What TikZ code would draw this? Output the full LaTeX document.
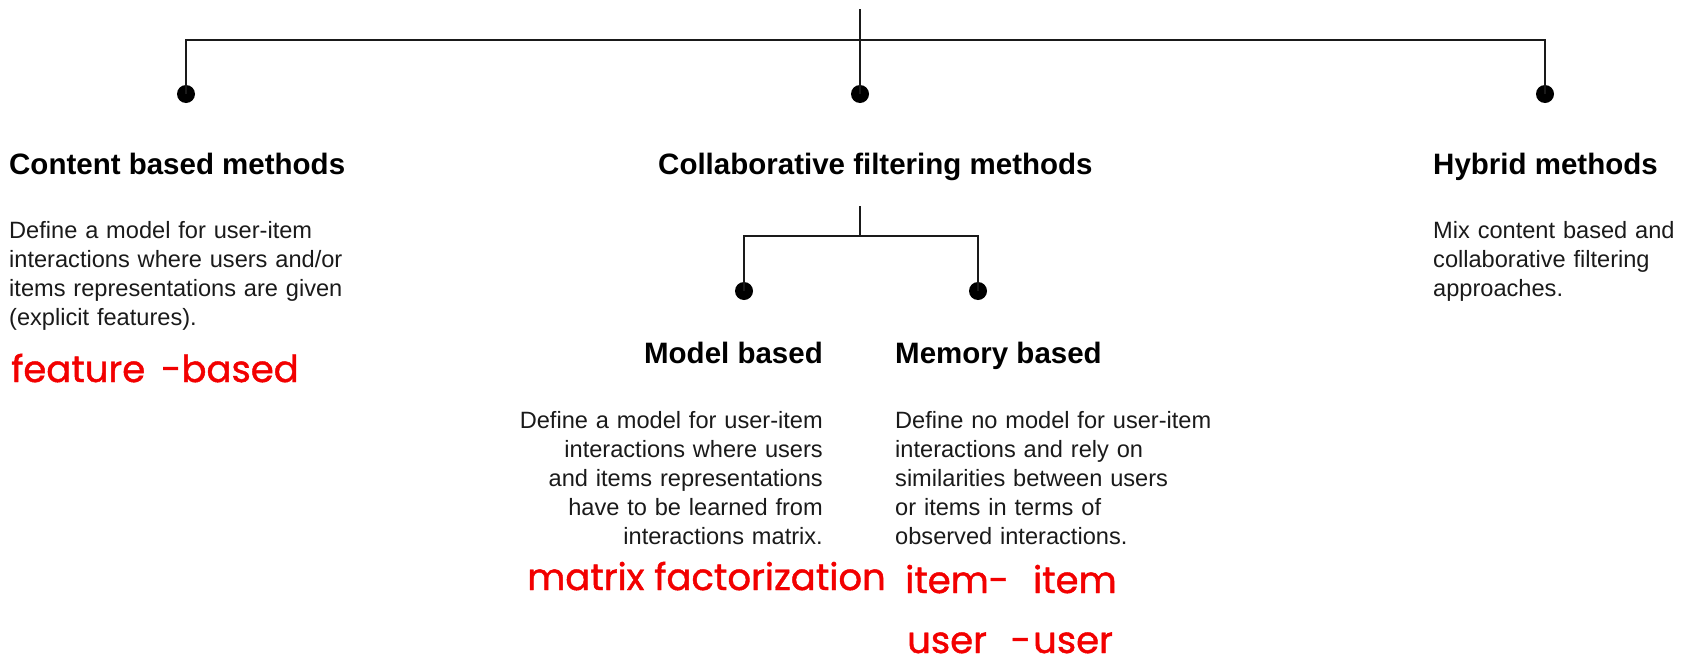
\documentclass[tikz,border=0pt]{standalone}
\usepackage{fontspec}
\setmainfont{Liberation Sans}
\newfontfamily\hand{Poppins}[FakeBold=1.2]
\definecolor{ink}{HTML}{1A1A1A}
\definecolor{marker}{HTML}{F20000}

\begin{document}
\begin{tikzpicture}[x=1pt,y=-1pt,
  wire/.style={line width=2.2pt, draw=ink},
  leaf/.style={circle, fill=black, inner sep=0pt, minimum size=18pt},
  heading/.style={font=\fontsize{29.5}{35}\selectfont\bfseries, text=black, inner sep=0pt},
  body/.style={font=\fontsize{23.6}{29.2}\selectfont, text=ink, inner sep=0pt, text width=440pt},
  note/.style={font=\hand\fontsize{37}{42}\selectfont, text=marker, inner sep=0pt}
]
\useasboundingbox (0,0) rectangle (1698,664);

% top level of the taxonomy
\coordinate (root) at (860,9);
\coordinate (bar) at (860,40);
\node[leaf] (content) at (186,94) {};
\node[leaf] (collab) at (860,94) {};
\node[leaf] (hybrid) at (1545,94) {};
\draw[wire] (root) -- (collab.center);
\draw[wire] (content.center) -- (content.center |- bar) -- (hybrid.center |- bar) -- (hybrid.center);

% second level under collaborative filtering
\coordinate (subroot) at (860,206);
\coordinate (subbar) at (860,236);
\node[leaf] (model) at (744,291) {};
\node[leaf] (memory) at (978,291) {};
\draw[wire] (subroot) -- (subbar);
\draw[wire] (model.center) -- (model.center |- subbar) -- (memory.center |- subbar) -- (memory.center);

% headings
\node[heading, anchor=base west] (contentT) at (9,174) {Content based methods};
\node[heading, anchor=base west] (collabT) at (658,174) {Collaborative filtering methods};
\node[heading, anchor=base west] (hybridT) at (1433,174) {Hybrid methods};
\node[heading, anchor=base east] (modelT) at (823,363) {Model based};
\node[heading, anchor=base west] (memoryT) at (895,363) {Memory based};

% descriptions
\node[body, align=left, anchor=base west] (contentD) at (9,238)
  {Define a model for user-item\\interactions where users and/or\\items representations are given\\(explicit features).};
\node[body, align=left, anchor=base west] (hybridD) at (1433,238)
  {Mix content based and\\collaborative filtering\\approaches.};
\node[body, align=right, anchor=base east] (modelD) at (823,428)
  {Define a model for user-item\\interactions where users\\and items representations\\have to be learned from\\interactions matrix.};
\node[body, align=left, anchor=base west] (memoryD) at (895,428)
  {Define no model for user-item\\interactions and rely on\\similarities between users\\or items in terms of\\observed interactions.};

% handwritten notes
\node[note, anchor=base west] (noteA) at (11,382) {feature\hspace{6pt} -based};
\node[note, anchor=base west] (noteB) at (527,590) {matrix factorization};
\node[note, anchor=base west] (noteC) at (905,593) {item-\hspace{14pt} item};
\node[note, anchor=base west] (noteD) at (907,653) {user\hspace{14pt} -\hspace{2pt}user};
\end{tikzpicture}
\end{document}
